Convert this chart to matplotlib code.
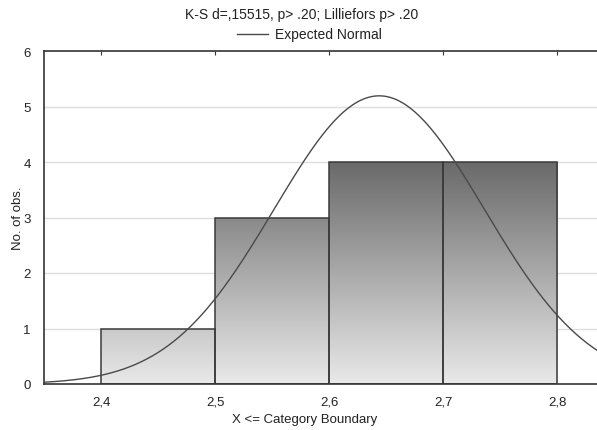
import numpy as np
import matplotlib
matplotlib.use("Agg")
import matplotlib.pyplot as plt
from matplotlib.colors import LinearSegmentedColormap
from matplotlib.patches import Rectangle

plt.rcParams['font.family'] = ['Liberation Sans', 'DejaVu Sans']

# Data
bin_edges = [2.4, 2.5, 2.6, 2.7, 2.8]
counts = [1, 3, 4, 4]
n_obs = 12
mean_val = 2.644
sd_val = 0.0922
x_ticks = [2.4, 2.5, 2.6, 2.7, 2.8]
x_tick_labels = ["2,4", "2,5", "2,6", "2,7", "2,8"]
y_ticks = [0, 1, 2, 3, 4, 5, 6]
title = "K-S d=,15515, p> .20; Lilliefors p> .20"
legend_label = "Expected Normal"
x_label = "X <= Category Boundary"
y_label = "No. of obs."

fig = plt.figure(figsize=(5.97, 4.31), dpi=100)
ax = fig.add_axes([44/597, 1-385/431, 553/597, (385-52)/431])

xmin, xmax = 2.35, 2.835
ax.set_xlim(xmin, xmax)
ax.set_ylim(0, 6)

# grid
for yv in y_ticks[1:-1]:
    ax.axhline(yv, color='#dedede', lw=1.0, zorder=0)

cmap = LinearSegmentedColormap.from_list('g', ['#e9e9e9', '#6a6a6a'])
for i, c in enumerate(counts):
    x0, x1 = bin_edges[i], bin_edges[i+1]
    grad = np.linspace(0, c, 200).reshape(-1, 1)
    im = ax.imshow(grad, extent=(x0, x1, 0, c), origin='lower', aspect='auto',
                   cmap=cmap, vmin=0, vmax=4, zorder=1, interpolation='bilinear')
    rect = Rectangle((x0, 0), x1-x0, c, facecolor='none', edgecolor='#3a3a3a',
                     lw=1.1, zorder=2)
    ax.add_patch(rect)
    im.set_clip_path(rect)

binw = bin_edges[1] - bin_edges[0]
xs = np.linspace(xmin, xmax, 400)
ys = n_obs * binw / (sd_val*np.sqrt(2*np.pi)) * np.exp(-(xs-mean_val)**2/(2*sd_val**2))
ax.plot(xs, ys, color='#4a4a4a', lw=1.0, zorder=3)

ax.set_xticks(x_ticks)
ax.set_xticklabels(x_tick_labels)
ax.set_yticks(y_ticks)
ax.tick_params(axis='x', which='both', bottom=False, top=True, direction='in',
               length=3, color='#333333', labelsize=9.5, pad=8, labelcolor='#222222')
ax.tick_params(axis='y', left=False, labelsize=9.5, pad=6, labelcolor='#222222')
for s in ['left', 'bottom', 'top']:
    ax.spines[s].set_color('#333333')
    ax.spines[s].set_linewidth(1.2)
ax.spines['right'].set_visible(False)

fig.text(305/597, 1-420/431, x_label, ha='center', va='center', fontsize=9.5, color='#222222')
fig.text(18/597, 1-218/431, y_label, ha='center', va='center', rotation=90, fontsize=9.5, color='#222222')

fig.text(0.505, 1-15/431, title, ha='center', va='center', fontsize=10, color='#222222')
fig.text(275/597, 1-35/431, legend_label, ha='left', va='center', fontsize=10, color='#222222')
fig.add_artist(plt.Line2D([237/597, 268/597], [1-35/431, 1-35/431], color='#4a4a4a', lw=1.0))

fig.savefig("out.png", dpi=100)
